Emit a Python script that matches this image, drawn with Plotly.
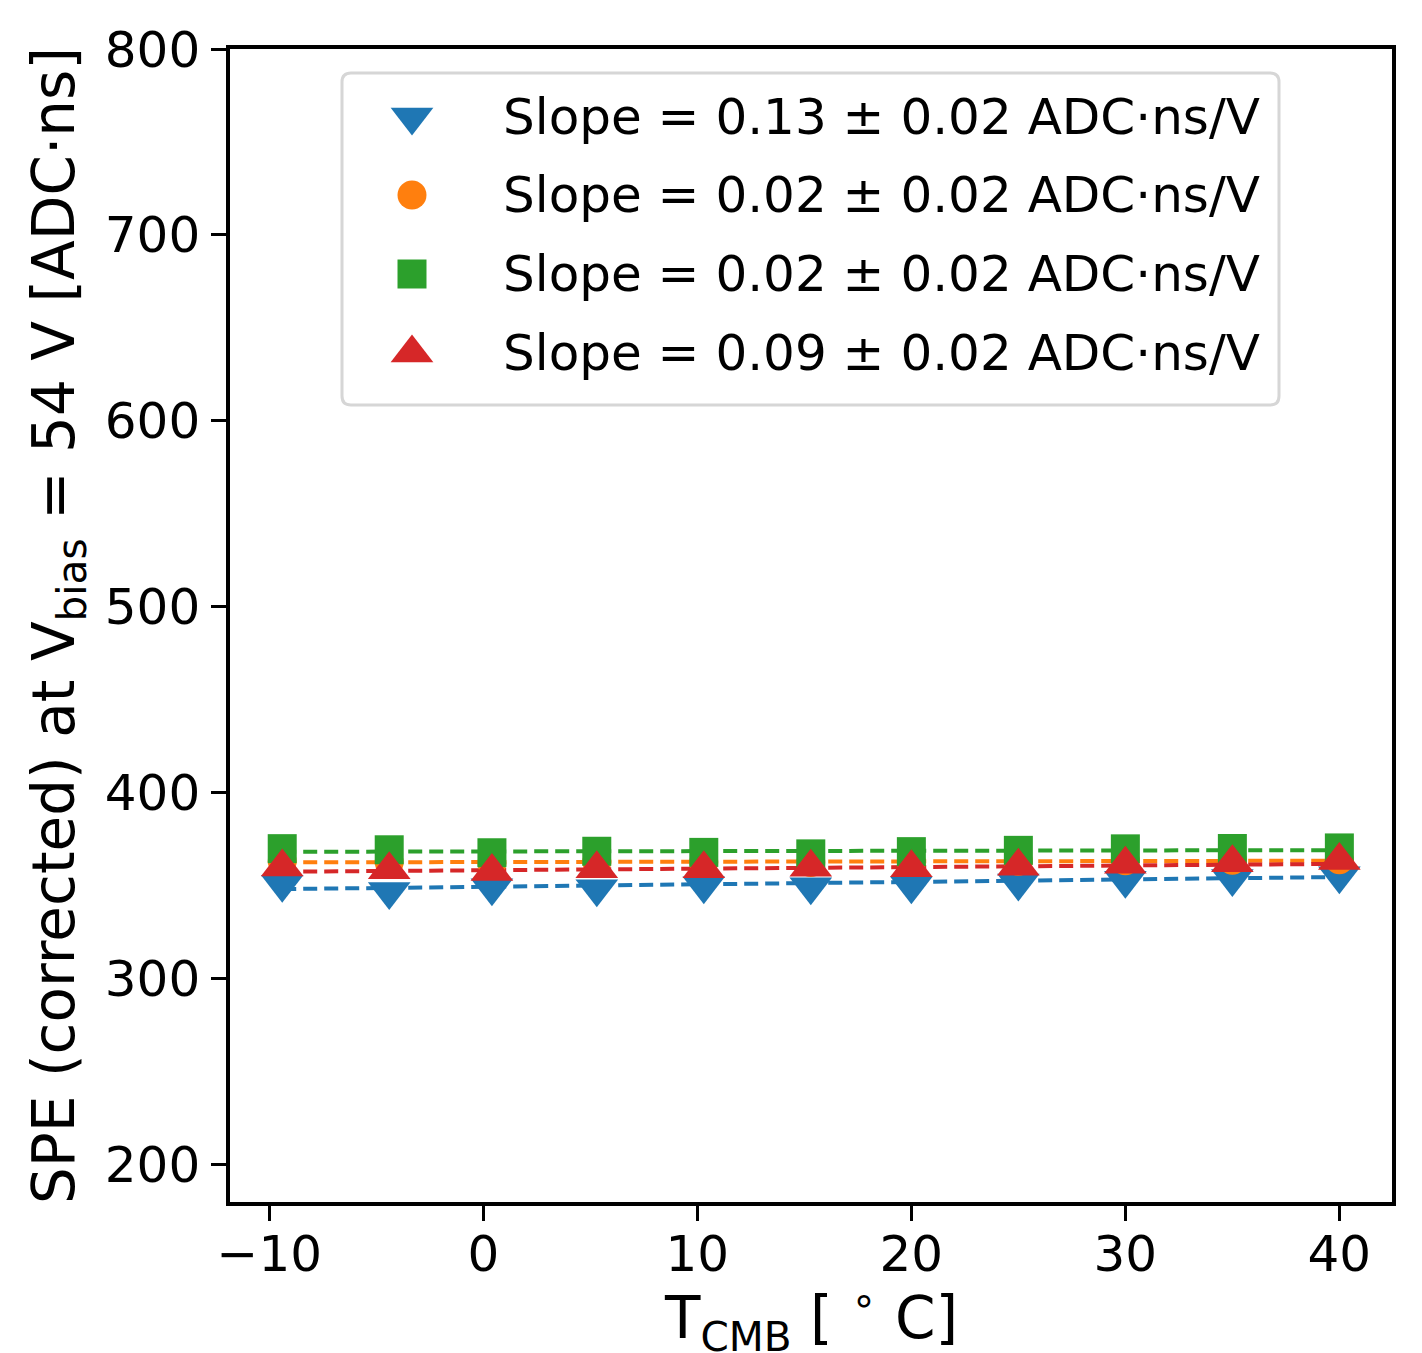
import numpy as np
import plotly.graph_objects as go

# ---------------- data ----------------
temperature = [-9.4, -4.4, 0.4, 5.3, 10.3, 15.3, 20.0, 25.0, 30.0, 35.0, 40.0]

spe_blue = [350.8, 347.0, 349.0, 348.5, 350.0, 349.5, 350.0, 351.5, 353.0, 354.0, 355.4]
spe_orange = [363.2, 362.8, 362.3, 363.0, 362.8, 362.6, 363.0, 363.2, 363.5, 363.8, 364.0]
spe_green = [370.0, 369.4, 367.8, 368.6, 368.0, 367.2, 368.4, 369.1, 369.9, 370.1, 370.4]
spe_red = [360.2, 358.6, 357.7, 359.2, 359.2, 360.0, 359.7, 360.5, 361.6, 362.4, 363.6]

fit_slope = [0.1316, 0.018, 0.018, 0.085]
fit_intercept = [349.5, 362.8, 368.5, 358.4]

legend_labels = [
    "Slope = 0.13 ± 0.02 ADC·ns/V",
    "Slope = 0.02 ± 0.02 ADC·ns/V",
    "Slope = 0.02 ± 0.02 ADC·ns/V",
    "Slope = 0.09 ± 0.02 ADC·ns/V",
]

x_ticks = [-10, 0, 10, 20, 30, 40]
y_ticks = [200, 300, 400, 500, 600, 700, 800]

x_title = "T<sub>CMB</sub> [ <sup>∘</sup> C]"
y_title = "SPE (corrected) at V<sub>bias</sub> = 54 V [ADC·ns]"

# ---------------- style ----------------
colors = ["#1f77b4", "#ff7f0e", "#2ca02c", "#d62728"]
symbols = ["triangle-down", "circle", "square", "triangle-up"]
msizes = [37, 29, 29, 37]
series = [spe_blue, spe_orange, spe_green, spe_red]
FONT = "DejaVu Sans"

fig = go.Figure()

# fit lines (below markers)
t = np.array([temperature[0], temperature[-1]])
for i in range(4):
    fig.add_trace(go.Scatter(
        x=t, y=fit_intercept[i] + fit_slope[i] * t, mode="lines",
        line=dict(color=colors[i], width=4, dash="14px,7px"),
        showlegend=False, hoverinfo="skip"))

# data markers
for i in range(4):
    fig.add_trace(go.Scatter(
        x=temperature, y=series[i], mode="markers",
        marker=dict(symbol=symbols[i], size=msizes[i], color=colors[i],
                    line=dict(width=0)),
        showlegend=False))

# ---------------- manual legend ----------------
W, H = 1162.0, 1153.0
bx0, bx1 = (342 - 230) / W, (1279 - 230) / W
by0, by1 = (1202 - 405) / H, (1202 - 73) / H
rx, ry = 9 / W, 9 / H
path = (f"M{bx0+rx},{by0} L{bx1-rx},{by0} Q{bx1},{by0} {bx1},{by0+ry} "
        f"L{bx1},{by1-ry} Q{bx1},{by1} {bx1-rx},{by1} L{bx0+rx},{by1} "
        f"Q{bx0},{by1} {bx0},{by1-ry} L{bx0},{by0+ry} Q{bx0},{by0} {bx0+rx},{by0} Z")
fig.add_shape(type="path", path=path, xref="paper", yref="paper",
              line=dict(color="#d6d6d6", width=3), fillcolor="rgba(255,255,255,0.8)",
              layer="below")

leg_x = (412 - 230) / W
leg_text_x = (501 - 230) / W
leg_rows = [(1202 - py) / H for py in (117, 195, 274, 353)]
for i in range(4):
    fig.add_trace(go.Scatter(
        x=[leg_x], y=[leg_rows[i]], xaxis="x2", yaxis="y2", mode="markers",
        marker=dict(symbol=symbols[i], size=msizes[i], color=colors[i], line=dict(width=0)),
        showlegend=False, hoverinfo="skip"))
    fig.add_annotation(x=leg_text_x, y=leg_rows[i], xref="paper", yref="paper",
                       text=legend_labels[i], showarrow=False, xanchor="left",
                       yanchor="middle", font=dict(family=FONT, size=50, color="black"))

# x-axis title as annotation
fig.add_annotation(x=(811 - 230) / W, y=-(1275 - 1202) / H, xref="paper", yref="paper",
                   text=x_title, showarrow=False, xanchor="center", yanchor="top",
                   borderpad=0, font=dict(family=FONT, size=58, color="black"))

axis_common = dict(showgrid=False, zeroline=False, showline=True, linecolor="black",
                   linewidth=3.5, mirror=True, ticks="outside", ticklen=15,
                   tickwidth=3.3, tickcolor="black", automargin=False,
                   tickfont=dict(family=FONT, size=50, color="black"))

fig.update_layout(
    width=1422, height=1353,
    margin=dict(l=230, r=30, t=49, b=151),
    paper_bgcolor="white", plot_bgcolor="white",
    showlegend=False,
    xaxis=dict(range=[-11.84, 42.46], tickvals=x_ticks, ticktext=[("−10" if v < 0 else str(v)) for v in x_ticks],
               ticklabelstandoff=-10, **axis_common),
    yaxis=dict(range=[180, 800], tickvals=y_ticks,
               title=dict(text=y_title, font=dict(family=FONT, size=58, color="black"), standoff=13),
               ticklabelstandoff=1, **axis_common),
    xaxis2=dict(domain=[0, 1], range=[0, 1], visible=False, anchor="y2", overlaying="x"),
    yaxis2=dict(domain=[0, 1], range=[0, 1], visible=False, anchor="x2", overlaying="y"),
)

fig.write_html("out.html")
